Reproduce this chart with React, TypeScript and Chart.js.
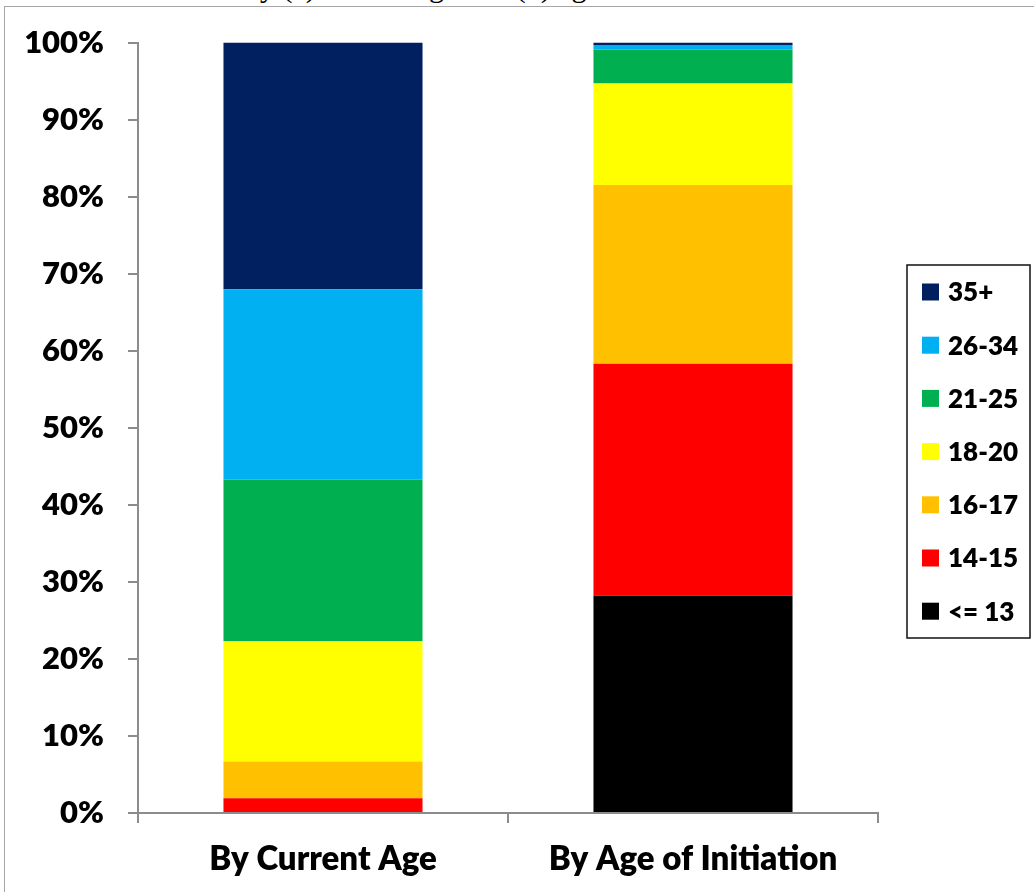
import { useEffect, useRef } from "react";
import { Chart, registerables } from "chart.js";

Chart.register(...registerables);

// Categories along the x axis
const categories = ["By Current Age", "By Age of Initiation"];

// Age groups, bottom of the stack first
const seriesNames = ["<= 13", "14-15", "16-17", "18-20", "21-25", "26-34", "35+"];
const seriesColors = ["#000000", "#FF0000", "#FFC000", "#FFFF00", "#00B050", "#00B0F0", "#002060"];

// Share of respondents (%) per category
const ageUpTo13 = [0, 28.2];
const age14to15 = [1.9, 30.1];
const age16to17 = [4.8, 23.2];
const age18to20 = [15.6, 13.2];
const age21to25 = [21.0, 4.4];
const age26to34 = [24.7, 0.6];
const age35plus = [32.0, 0.3];

const seriesValues = [ageUpTo13, age14to15, age16to17, age18to20, age21to25, age26to34, age35plus];

// Y axis tick values (%)
const yTickValues = [0, 10, 20, 30, 40, 50, 60, 70, 80, 90, 100];

const AXIS_GRAY = "#8c8c8c";
const FONT_FAMILY = "Lato, 'Open Sans', sans-serif";
const FONT_WEIGHT = 800;

// Boxed legend drawn to the right of the plot, top entry = last stack layer
const boxedLegend = {
  id: "boxedLegend",
  afterDraw(chart: any) {
    const ctx = chart.ctx as CanvasRenderingContext2D;
    const area = chart.chartArea;
    const boxLeft = area.right + 29;
    const boxTop = 265;
    const boxWidth = 123;
    const boxHeight = 373;
    const firstRow = 292;
    const rowStep = 53.2;
    ctx.save();
    ctx.strokeStyle = "#111111";
    ctx.lineWidth = 1.5;
    ctx.strokeRect(boxLeft, boxTop, boxWidth, boxHeight);
    const items = chart.data.datasets.slice().reverse();
    ctx.font = `${FONT_WEIGHT} 26px ${FONT_FAMILY}`;
    ctx.textBaseline = "middle";
    ctx.textAlign = "left";
    items.forEach((ds: any, i: number) => {
      const cy = firstRow + i * rowStep;
      ctx.fillStyle = ds.backgroundColor;
      ctx.fillRect(boxLeft + 15, cy - 8.5, 17, 17);
      ctx.fillStyle = "#000000";
      ctx.fillText(ds.label, boxLeft + 41, cy + 1);
    });
    ctx.restore();
  },
};

export default function App() {
  const canvasRef = useRef<HTMLCanvasElement | null>(null);

  useEffect(() => {
    let chart: Chart | null = null;
    let cancelled = false;

    const build = () => {
      if (cancelled || !canvasRef.current) return;
      chart = new Chart(canvasRef.current, {
        type: "bar",
        data: {
          labels: categories,
          datasets: seriesNames.map((name, i) => ({
            label: name,
            data: seriesValues[i],
            backgroundColor: seriesColors[i],
            borderWidth: 0,
            barPercentage: 0.538,
            categoryPercentage: 1,
          })),
        },
        options: {
          responsive: false,
          animation: false,
          devicePixelRatio: 1,
          layout: { padding: { top: 39, right: 156, bottom: 0, left: 0 } },
          plugins: {
            legend: { display: false },
            tooltip: { enabled: false },
            title: { display: false },
          },
          scales: {
            x: {
              stacked: true,
              grid: {
                offset: true,
                drawOnChartArea: false,
                drawTicks: true,
                tickLength: 10,
                color: AXIS_GRAY,
                lineWidth: 2,
              },
              border: { display: true, color: AXIS_GRAY, width: 2 },
              ticks: {
                color: "#000000",
                font: { family: FONT_FAMILY, size: 33, weight: FONT_WEIGHT as any },
                padding: 17,
                maxRotation: 0,
              },
              afterFit: (scale: any) => {
                scale.height = 79;
              },
            },
            y: {
              stacked: true,
              min: 0,
              max: 100,
              afterBuildTicks: (scale: any) => {
                scale.ticks = yTickValues.map((v) => ({ value: v }));
              },
              grid: {
                drawOnChartArea: false,
                drawTicks: true,
                tickLength: 10,
                color: AXIS_GRAY,
                lineWidth: 2,
              },
              border: { display: true, color: AXIS_GRAY, width: 2 },
              ticks: {
                color: "#000000",
                font: { family: FONT_FAMILY, size: 31, weight: FONT_WEIGHT as any },
                padding: 24,
                callback: (v: any) => `${v}%`,
              },
              afterFit: (scale: any) => {
                scale.width = 138;
              },
            },
          },
        },
        plugins: [boxedLegend],
      });
    };

    const fontsReady = (document as any).fonts
      ? Promise.all([
          (document as any).fonts.load(`${FONT_WEIGHT} 31px Lato`),
          (document as any).fonts.load(`${FONT_WEIGHT} 33px Lato`),
          (document as any).fonts.load(`${FONT_WEIGHT} 26px Lato`),
        ]).catch(() => null)
      : Promise.resolve(null);
    fontsReady.then(build);

    return () => {
      cancelled = true;
      if (chart) chart.destroy();
    };
  }, []);

  return (
    <div
      style={{
        position: "fixed",
        left: 0,
        top: 0,
        width: 1034,
        height: 892,
        overflow: "hidden",
        background: "#ffffff",
      }}
    >
      <div
        style={{
          position: "absolute",
          left: 245,
          top: -28,
          font: "30px 'Liberation Serif', 'Times New Roman', serif",
          lineHeight: "30px",
          whiteSpace: "nowrap",
          color: "#000000",
        }}
      >
        by (a) current age and (b) age of initiation
      </div>
      <div
        style={{
          position: "absolute",
          left: 4,
          top: 6,
          width: 1100,
          height: 1000,
          borderLeft: "1.5px solid #a6a6a6",
          borderTop: "1.5px solid #a6a6a6",
        }}
      />
      <canvas
        ref={canvasRef}
        width={1034}
        height={892}
        style={{ position: "absolute", left: 0, top: 0, display: "block" }}
      />
    </div>
  );
}
